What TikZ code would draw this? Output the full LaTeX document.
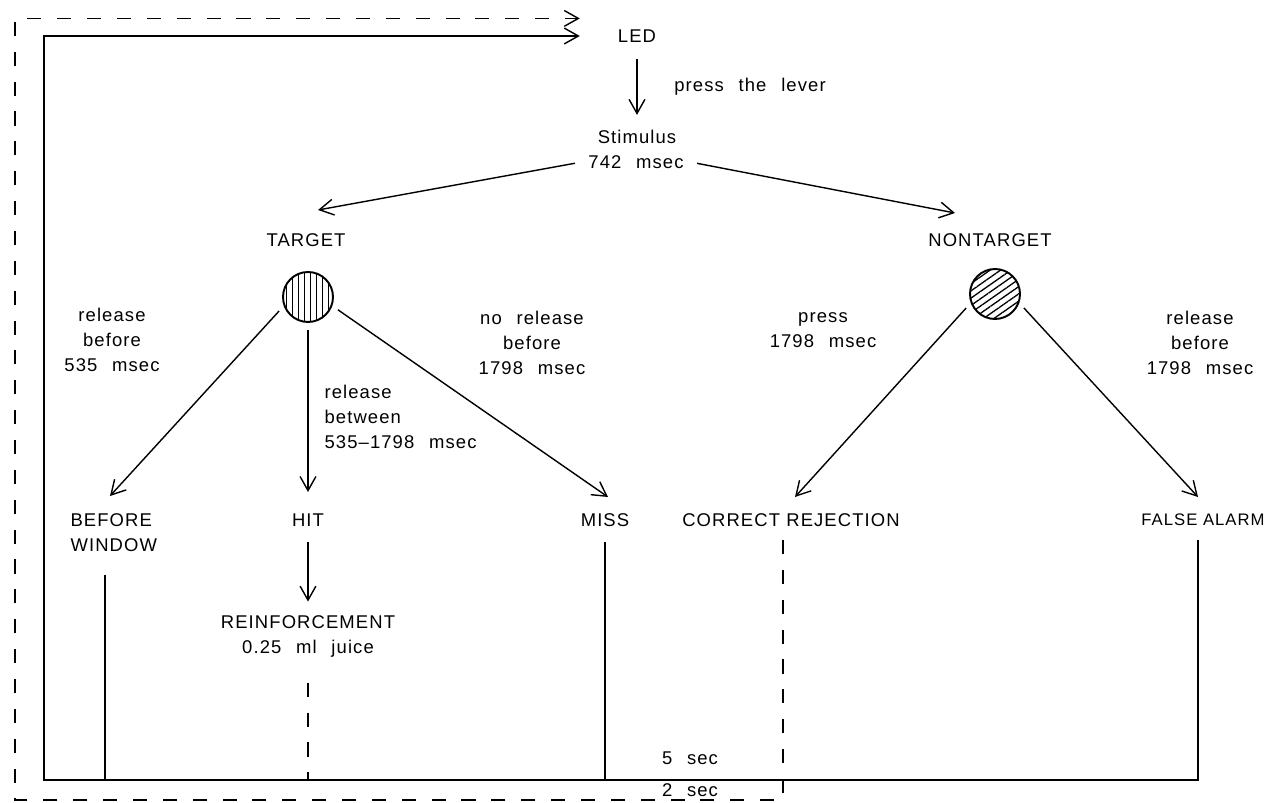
\documentclass[tikz,border=0pt]{standalone}
\usepackage{fontspec}
\newfontfamily\plotter{Liberation Sans}[LetterSpace=6.0]
\usetikzlibrary{arrows.meta,patterns.meta}
\tikzset{
	arr/.style={-{Straight Barb[length=8pt,width=9pt]}},
	dashln/.style={dash pattern=on 8pt off 9pt},
	caps/.style={font={\plotter\fontsize{10.5}{14.2}\selectfont\spaceskip=0pt\relax}},
	disc/.style={circle,draw,line width=1.1pt,minimum size=1cm,inner sep=0pt}
}
\begin{document}
\begin{tikzpicture}[x=0.02cm,y=-0.02cm,line width=0.8pt,font={\plotter\fontsize{10.5}{14.2}\selectfont\spaceskip=0.8em\relax}]
	\useasboundingbox (0,0) rectangle (1268,803);
	% labels
	\node[caps] (led) at (637,36) {LED};
	\node (lever) at (750,87) {press the lever};
	\node (stim) at (637,137) {Stimulus};
	\node (stimt) at (636,162) {742 msec};
	\node[caps] (tgt) at (306,240) {TARGET};
	\node[caps] (ntgt) at (990,240) {NONTARGET};
	\node[disc,pattern={Lines[angle=90,distance=3.4pt,line width=0.75pt]}] (tc) at (308,297) {};
	\node[disc,pattern={Lines[angle=35,distance=3.4pt,line width=0.75pt]}] (nc) at (995,294) {};
	\node[align=center] (relb) at (112,340) {release\\before\\535 msec};
	\node[align=left,anchor=west] (relw) at (318,417) {release\\between\\535–1798 msec};
	\node[align=center] (norel) at (532,343) {no release\\before\\1798 msec};
	\node[align=center] (prs) at (823,330) {press\\1798 msec};
	\node[align=center] (relf) at (1200,343) {release\\before\\1798 msec};
	\node[caps,align=left,anchor=west] (bw) at (64,533) {BEFORE\\WINDOW};
	\node[caps] (hit) at (308,520) {HIT};
	\node[caps] (miss) at (605,520) {MISS};
	\node[caps] (cr) at (791,520) {CORRECT REJECTION};
	\node[font={\plotter\fontsize{9.5}{12}\selectfont\spaceskip=0pt\relax}] (fa) at (1203,520) {FALSE ALARM};
	\node[align=center] (rf) at (308,636) {\spaceskip=0pt REINFORCEMENT\\0.25 ml juice};
	\node (five) at (690,758) {5 sec};
	\node (two) at (690,790) {2 sec};
	% arrow ends
	\coordinate (bot) at (44,780);
	\coordinate (dbot) at (15,800);
	\coordinate (tgtin) at (318,210);
	\coordinate (ntgtin) at (955,213);
	\coordinate (bwin) at (110,496);
	\coordinate (hitin) at (308,492);
	\coordinate (missin) at (608,497);
	\coordinate (crin) at (795,497);
	\coordinate (fain) at (1198,497);
	\coordinate (bwl) at (105,575);
	\coordinate (crl) at (783,540);
	\coordinate (fal) at (1198,540);
	% tree
	\draw[arr,shorten <=6pt,shorten >=5pt] (led) -- (stim);
	\draw[arr,shorten <=4pt] (stimt.west) -- (tgtin);
	\draw[arr,shorten <=4pt] (stimt.east) -- (ntgtin);
	\draw[arr,shorten <=4pt] (tc.200) -- (bwin);
	\draw[arr,shorten <=4pt] (tc.south) -- (hitin);
	\draw[arr,shorten <=4pt] (tc.-20) -- (missin);
	\draw[arr,shorten <=4pt] (nc.200) -- (crin);
	\draw[arr,shorten <=4pt] (nc.-20) -- (fain);
	\draw[arr,shorten <=5pt,shorten >=4pt] (hit) -- (rf);
	% back to LED
	\draw (bwl) -- (bwl |- bot);
	\draw[dashln,shorten <=11pt] (rf.south) -- (rf.south |- bot);
	\draw[shorten <=5pt] (miss.south) -- (miss.south |- bot);
	\draw[arr,shorten >=18pt] (fal) |- (bot) |- (led.west);
	\draw[dashln,arr,shorten >=18pt] (crl) |- (dbot) |- ([yshift=10pt]led.west);
\end{tikzpicture}
\end{document}
